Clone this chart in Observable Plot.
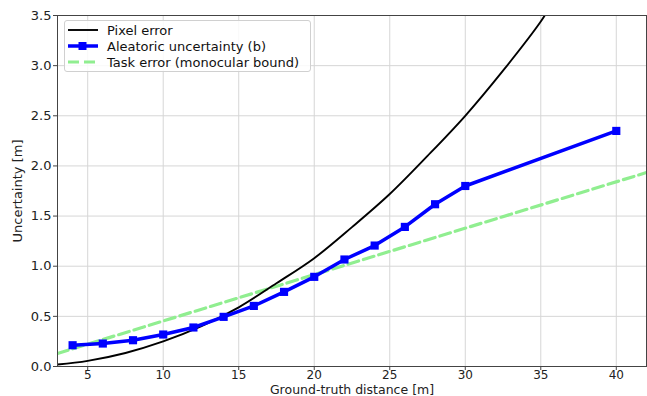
<!DOCTYPE html>
<html>
<head>
<meta charset="utf-8">
<script src="https://cdn.jsdelivr.net/npm/d3@7"></script>
<script src="https://cdn.jsdelivr.net/npm/@observablehq/plot@0.6"></script>
<style>
  body { margin: 0; background: #fff; }
  #wrap { position: relative; width: 647px; height: 396px; font-family: "DejaVu Sans", sans-serif; }
  #legend { position: absolute; left: 64px; top: 20px; width: 245px; height: 50px;
    border: 1px solid #d0d0d0; border-radius: 3px; background: rgba(255,255,255,0.85);
    font-size: 13px; color: #111; }
  .row { position: absolute; left: 0; height: 16px; display: flex; align-items: center; }
  .row svg { margin-left: 3px; }
  .row span { margin-left: 9px; white-space: nowrap; }
</style>
</head>
<body>
<div id="wrap"></div>
<script>
// ---- data ----
const pixelX = [3, 5, 7.5, 10, 12.5, 15, 17.5, 20, 22.5, 25, 27.5, 30, 32.5, 35, 35.5];
const pixelY = [0.02, 0.056, 0.135, 0.25, 0.40, 0.59, 0.83, 1.08, 1.39, 1.72, 2.10, 2.50, 2.95, 3.44, 3.56];

const aleaX = [4, 6, 8, 10, 12, 14, 16, 18, 20, 22, 24, 26, 28, 30, 40];
const aleaY = [0.212, 0.229, 0.262, 0.319, 0.389, 0.495, 0.604, 0.744, 0.894, 1.067, 1.206, 1.392, 1.618, 1.80, 2.349];

const taskX = [3, 42];
const taskY = [0.13, 1.934];

const xTicks = [5, 10, 15, 20, 25, 30, 35, 40];
const yTicks = [0, 0.5, 1.0, 1.5, 2.0, 2.5, 3.0, 3.5];

const seriesNames = ["Pixel error", "Aleatoric uncertainty (b)", "Task error (monocular bound)"];
const xLabel = "Ground-truth distance [m]";
const yLabel = "Uncertainty [m]";

const pixel = pixelX.map((x, i) => ({x, y: pixelY[i]}));
const alea = aleaX.map((x, i) => ({x, y: aleaY[i]}));
const task = taskX.map((x, i) => ({x, y: taskY[i]}));

const chart = Plot.plot({
  width: 647,
  height: 396,
  marginLeft: 57,
  marginRight: 1,
  marginTop: 15,
  marginBottom: 30,
  style: {fontFamily: "DejaVu Sans, sans-serif", fontSize: "13px", color: "#222", background: "#fff"},
  x: {domain: [3, 42]},
  y: {domain: [0, 3.5]},
  marks: [
    Plot.gridX(xTicks, {stroke: "#d6d6d6", strokeOpacity: 1, strokeWidth: 1}),
    Plot.gridY(yTicks, {stroke: "#d6d6d6", strokeOpacity: 1, strokeWidth: 1}),
    Plot.axisX({ticks: xTicks, tickSize: 4, tickPadding: 0, fontSize: 12, label: null, stroke: "#444"}),
    Plot.text([xLabel], {frameAnchor: "bottom", text: d => d, dy: 23.5, lineAnchor: "middle", fontSize: 12.5, fill: "#222"}),
    Plot.axisY({ticks: yTicks, tickSize: 4, tickPadding: 2, tickFormat: d3.format(".1f"), label: yLabel, labelAnchor: "center", labelOffset: 45, labelArrow: "none", stroke: "#444"}),
    Plot.line(task, {x: "x", y: "y", stroke: "#90ee90", strokeWidth: 3.2, strokeDasharray: "11,5", clip: true}),
    Plot.line(pixel, {x: "x", y: "y", stroke: "#000", strokeWidth: 1.9, curve: "catmull-rom", clip: true}),
    Plot.line(alea, {x: "x", y: "y", stroke: "#0000ff", strokeWidth: 3.5}),
    Plot.dot(alea, {x: "x", y: "y", symbol: "square", r: 4.6, fill: "#0000ff", stroke: "none"}),
    Plot.frame({stroke: "#444", strokeWidth: 1})
  ]
});

const wrap = document.getElementById("wrap");
wrap.appendChild(chart);

// legend overlay
const legend = document.createElement("div");
legend.id = "legend";
const samples = [
  `<svg width="30" height="10"><line x1="0" y1="5" x2="30" y2="5" stroke="#000" stroke-width="1.9"/></svg>`,
  `<svg width="30" height="10"><line x1="0" y1="5" x2="30" y2="5" stroke="#0000ff" stroke-width="3.5"/><rect x="10.5" y="1" width="8" height="8" fill="#0000ff"/></svg>`,
  `<svg width="30" height="10"><line x1="0" y1="5" x2="30" y2="5" stroke="#90ee90" stroke-width="3.2" stroke-dasharray="11,5"/></svg>`
];
seriesNames.forEach((name, i) => {
  const row = document.createElement("div");
  row.className = "row";
  row.style.top = (1 + i * 16) + "px";
  row.innerHTML = samples[i] + `<span>${name}</span>`;
  legend.appendChild(row);
});
wrap.appendChild(legend);
</script>
</body>
</html>
